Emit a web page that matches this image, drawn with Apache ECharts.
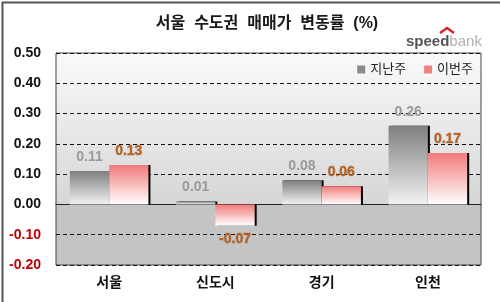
<!DOCTYPE html>
<html>
<head>
<meta charset="utf-8">
<script src="https://cdn.jsdelivr.net/npm/echarts@6/dist/echarts.min.js"></script>
<style>
  html, body { margin: 0; padding: 0; background: #fff; }
  #chart { width: 500px; height: 302px; }
</style>
</head>
<body>
<div id="chart"></div>
<script>
  var categories = ['서울', '신도시', '경기', '인천'];
  var lastWeek = [0.11, 0.01, 0.08, 0.26];
  var thisWeek = [0.13, -0.07, 0.06, 0.17];
  var tickCats = ['a', 'b', 'c', 'd', 'e', 'f', 'g', 'h'];

  var font = 'Arial, "Noto Sans CJK KR", sans-serif';
  var chart = echarts.init(document.getElementById('chart'));

  // 0 값 위치 (위에서부터 비율)
  var zeroStop = 0.5 / 0.7;

  var grayFill = new echarts.graphic.LinearGradient(0, 0, 0, 1, [
    { offset: 0, color: '#7f7f7f' }, { offset: 1, color: '#f2f2f2' }]);
  var pinkFill = new echarts.graphic.LinearGradient(0, 0, 0, 1, [
    { offset: 0, color: '#f27a7a' }, { offset: 1, color: '#ffffff' }]);

  var thisData = thisWeek.map(function (v) {
    var item = { value: v };
    if (v < 0) item.label = { position: 'bottom' };
    return item;
  });

  chart.setOption({
    backgroundColor: '#fff',
    animation: false,
    title: {
      text: '서울  수도권  매매가  변동률  (%)',
      left: 262, top: 11, textAlign: 'center',
      textStyle: { fontFamily: font, fontSize: 16, fontWeight: 'bold', color: '#1a1a1a' }
    },
    legend: {
      right: 22, top: 58, itemWidth: 8, itemHeight: 8, itemGap: 18,
      icon: 'rect',
      textStyle: { fontFamily: font, fontSize: 13, color: '#222' },
      data: [
        { name: '지난주', itemStyle: { color: '#8a8a8a' } },
        { name: '이번주', itemStyle: { color: '#f47f7f' } }
      ]
    },
    grid: {
      left: 56, right: 19, top: 53, bottom: 37,
      show: true, borderColor: '#444', borderWidth: 1,
      backgroundColor: new echarts.graphic.LinearGradient(0, 0, 0, 1, [
        { offset: 0, color: '#fafafa' },
        { offset: zeroStop, color: '#d6d6d6' },
        { offset: zeroStop, color: '#c4c4c4' },
        { offset: 1, color: '#c4c4c4' }
      ])
    },
    xAxis: [{
      type: 'category', data: categories, position: 'bottom',
      axisLine: { onZero: false, show: false },
      axisTick: { show: false },
      axisLabel: { margin: 11, fontFamily: font, fontSize: 14, fontWeight: 'bold', color: '#111' }
    }, {
      type: 'category', data: tickCats, position: 'bottom',
      axisLine: { onZero: true, lineStyle: { color: '#222', width: 1 } },
      axisTick: { inside: true, length: 4, lineStyle: { color: '#222' } },
      axisLabel: { show: false }
    }],
    yAxis: {
      type: 'value', min: -0.2, max: 0.5, interval: 0.1,
      axisLine: { show: false }, axisTick: { show: false },
      splitLine: { lineStyle: { color: '#111', type: [4, 3], width: 1 } },
      axisLabel: {
        margin: 15, fontFamily: font, fontSize: 14, fontWeight: 'bold',
        formatter: function (v) { return v.toFixed(2); },
        color: function (v) { return v < 0 ? '#c00000' : '#111'; }
      }
    },
    series: [{
      name: '지난주', type: 'bar', data: lastWeek,
      barGap: '0%', barCategoryGap: '26%',
      itemStyle: { color: grayFill, shadowColor: '#000', shadowOffsetX: 2, shadowOffsetY: 0, shadowBlur: 0 },
      label: {
        show: true, position: 'top', distance: 7,
        fontFamily: font, fontSize: 14, fontWeight: 'bold', color: '#9a9a9a',
        formatter: function (p) { return p.value.toFixed(2); }
      }
    }, {
      name: '이번주', type: 'bar', data: thisData,
      itemStyle: { color: pinkFill, shadowColor: '#000', shadowOffsetX: 2, shadowOffsetY: 0, shadowBlur: 0 },
      label: {
        show: true, position: 'top', distance: 7,
        fontFamily: font, fontSize: 14, fontWeight: 'bold', color: '#b8601c',
        textBorderColor: 'rgba(90,40,10,0.25)', textBorderWidth: 1,
        formatter: function (p) { return p.value.toFixed(2); }
      }
    }],
    graphic: [{
      type: 'rect', left: 0, top: 0, silent: true,
      shape: { width: 500, height: 302 },
      style: { fill: 'none', stroke: '#555', lineWidth: 2 }
    }, {
      type: 'text', left: 406, top: 34,
      style: {
        text: '{a|speed}{b|bank}',
        rich: {
          a: { fontFamily: font, fontSize: 15, fontWeight: 'bold', fill: '#555' },
          b: { fontFamily: font, fontSize: 15, fill: '#b0b0b0' }
        }
      }
    }, {
      type: 'polyline', silent: true,
      shape: { points: [[440, 33], [447, 28], [454, 33]] },
      style: { stroke: '#d9242a', lineWidth: 2.5, fill: 'none' }
    }]
  });
</script>
</body>
</html>
